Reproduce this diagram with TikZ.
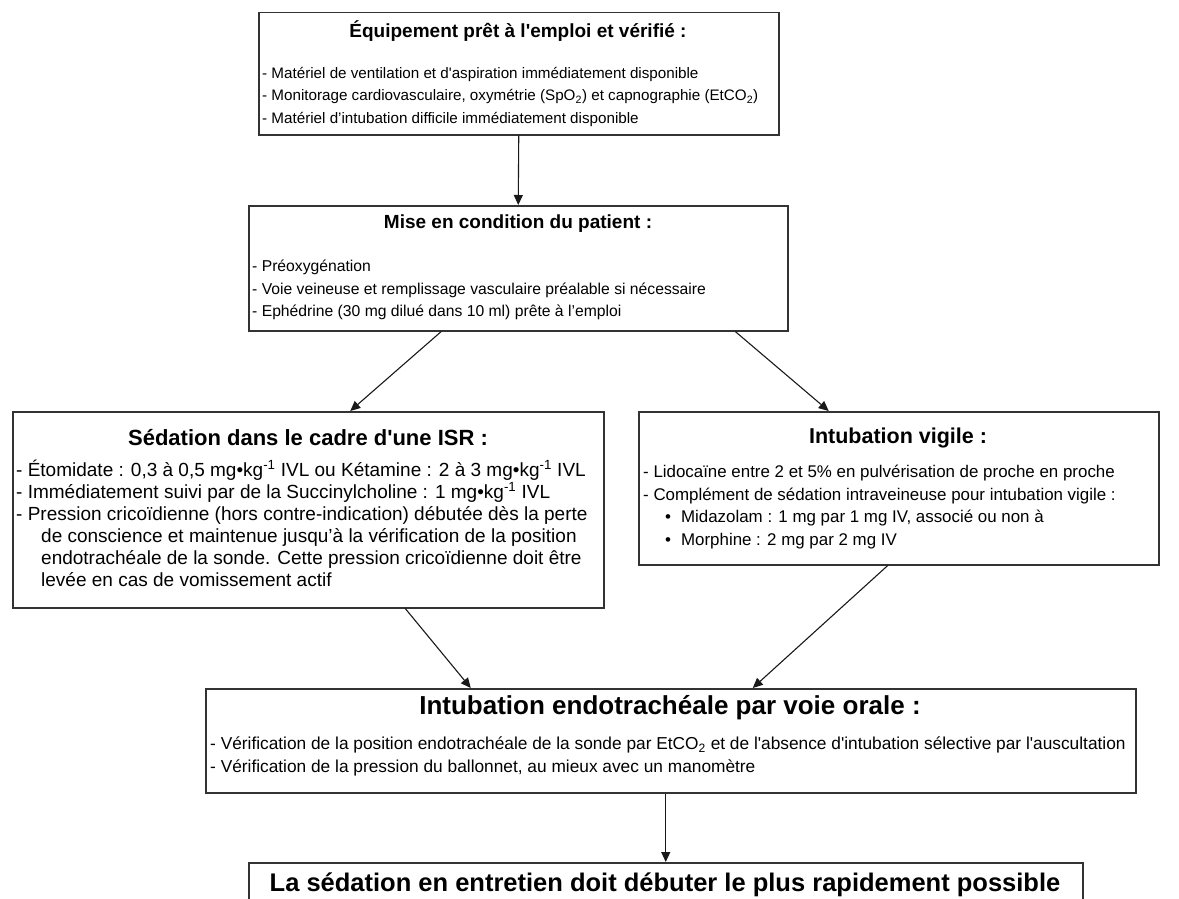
\documentclass[tikz,border=0pt]{standalone}
\usepackage{fontspec}
\newfontfamily\arial{Liberation Sans}
\usetikzlibrary{arrows.meta}
\tikzset{
  box/.style={draw=black!80, line width=1.5pt, anchor=north west, inner sep=0pt},
  title/.style={font=\arial\bfseries\fontsize{#1}{#1}\selectfont, inner sep=0pt},
  body/.style 2 args={font=\arial\fontsize{#1}{#2}\selectfont, align=left, anchor=north west, inner sep=0pt},
  arr/.style={-{Triangle[length=10pt,width=9pt]}, line width=1.1pt, black!90},
}
\begin{document}
\begin{tikzpicture}[x=1pt,y=-1pt]
  \useasboundingbox (0,0) rectangle (1179,899);
  % cadres
  \node[box, minimum width=520pt, minimum height=122pt] (equip) at (258,12) {};
  \node[box, minimum width=539pt, minimum height=125pt] (mise) at (248,205) {};
  \node[box, minimum width=591pt, minimum height=196pt] (isr) at (12,411) {};
  \node[box, minimum width=520pt, minimum height=153pt] (vigile) at (638,411) {};
  \node[box, minimum width=930pt, minimum height=104pt] (orale) at (205,688) {};
  \node[box, minimum width=834pt, minimum height=60pt] (entretien) at (248,862) {};
  % titres
  \node[title=19] (equip-t) at (518,31) {Équipement prêt à l'emploi et vérifié :};
  \node[title=19] (mise-t) at (518,224) {Mise en condition du patient :};
  \node[title=22] (isr-t) at (308,438) {Sédation dans le cadre d'une ISR :};
  \node[title=21.5] (vigile-t) at (898,438) {Intubation vigile :};
  \node[title=26] (orale-t) at (670,708) {Intubation endotrachéale par voie orale :};
  \node[title=25.5] (entretien-t) at (665,885) {La sédation en entretien doit débuter le plus rapidement possible};
  % textes
  \node[body={15.2}{22.5}] (equip-b) at (262,67) {- Matériel de ventilation et d'aspiration immédiatement disponible\\
    - Monitorage cardiovasculaire, oxymétrie (SpO\textsubscript{2}) et capnographie (EtCO\textsubscript{2})\\
    - Matériel d’intubation difficile immédiatement disponible};
  \node[body={15.7}{22.5}] (mise-b) at (252,260) {- Préoxygénation\\
    - Voie veineuse et remplissage vasculaire préalable si nécessaire\\
    - Ephédrine (30 mg dilué dans 10 ml) prête à l’emploi};
  \node[body={19}{22}] (isr-b) at (16,459.5) {- Étomidate : 0,3 à 0,5 mg•kg\textsuperscript{-1} IVL ou Kétamine : 2 à 3 mg•kg\textsuperscript{-1} IVL\\
    - Immédiatement suivi par de la Succinylcholine : 1 mg•kg\textsuperscript{-1} IVL\\
    - Pression cricoïdienne (hors contre-indication) débutée dès la perte\\
    \hspace*{25pt}de conscience et maintenue jusqu’à la vérification de la position\\
    \hspace*{25pt}endotrachéale de la sonde. Cette pression cricoïdienne doit être\\
    \hspace*{25pt}levée en cas de vomissement actif};
  \node[body={16.9}{22.5}] (vigile-b) at (643,465) {- Lidocaïne entre 2 et 5\% en pulvérisation de proche en proche\\
    - Complément de sédation intraveineuse pour intubation vigile :\\
    \hspace*{22pt}•\hspace*{10pt}Midazolam : 1 mg par 1 mg IV, associé ou non à\\
    \hspace*{22pt}•\hspace*{10pt}Morphine : 2 mg par 2 mg IV};
  \node[body={17.3}{23}] (orale-b) at (210,736.5) {- Vérification de la position endotrachéale de la sonde par EtCO\textsubscript{2} et de l'absence d'intubation sélective par l'auscultation\\
    - Vérification de la pression du ballonnet, au mieux avec un manomètre};
  % fleches
  \draw[arr] (equip.south) -- (mise.north);
  \draw[arr] ([xshift=-77pt]mise.south) -- ([xshift=42pt]isr.north);
  \draw[arr] ([xshift=217pt]mise.south) -- ([xshift=-70pt]vigile.north);
  \draw[arr] ([xshift=97pt]isr.south) -- ([xshift=-200pt]orale.north);
  \draw[arr] ([xshift=-11pt]vigile.south) -- ([xshift=82pt]orale.north);
  \draw[arr] (entretien.north |- orale.south) -- (entretien.north);
\end{tikzpicture}
\end{document}
